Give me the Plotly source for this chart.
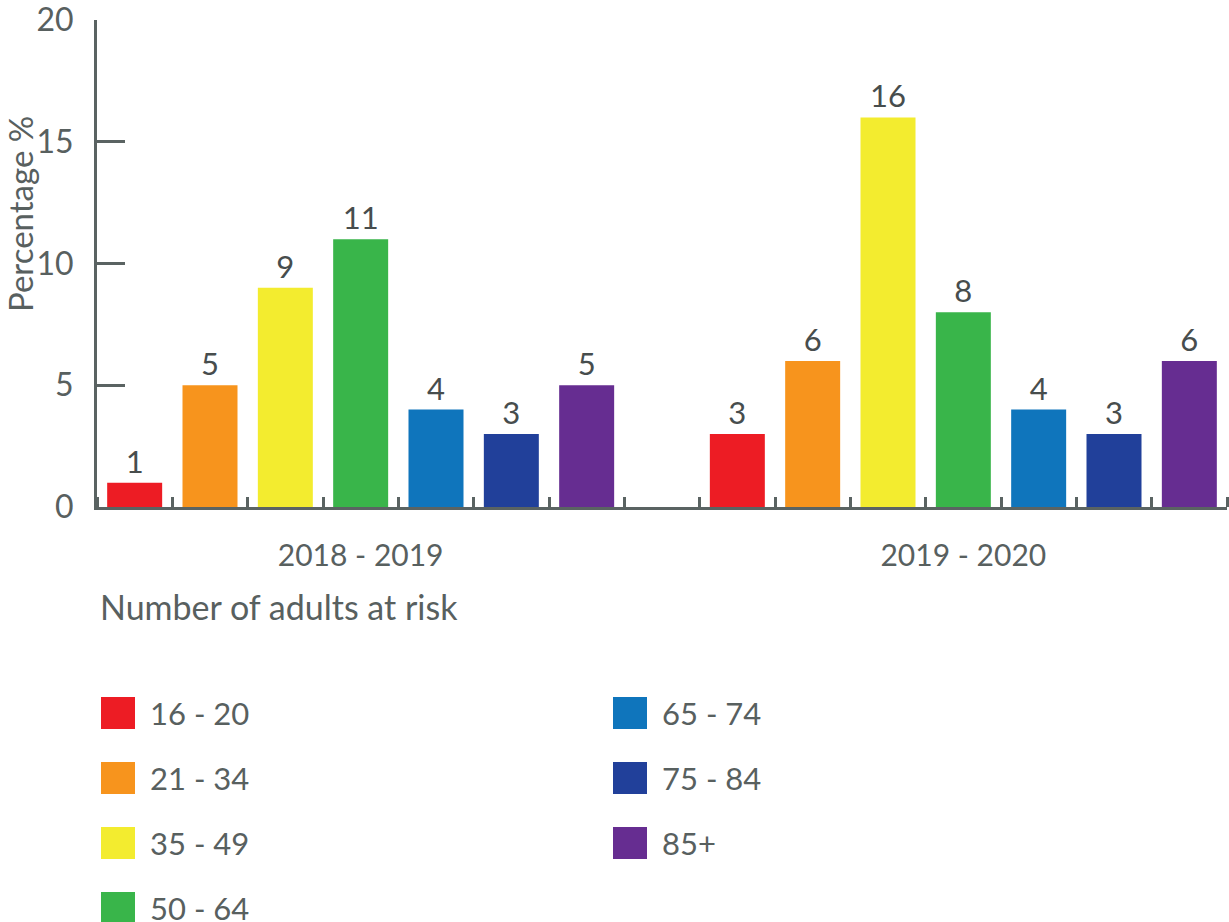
import plotly.graph_objects as go

# ---- data ----
periods = ["2018 - 2019", "2019 - 2020"]
age_groups = ["16 - 20", "21 - 34", "35 - 49", "50 - 64", "65 - 74", "75 - 84", "85+"]
values_2018_2019 = [1, 5, 9, 11, 4, 3, 5]
values_2019_2020 = [3, 6, 16, 8, 4, 3, 6]
colors = ["#ed1c24", "#f7941d", "#f3ec2f", "#39b54a", "#0f75bc", "#21409a", "#662d91"]
y_tick_values = [0, 5, 10, 15, 20]
y_title = "Percentage %"
x_title = "Number of adults at risk"

series = [values_2018_2019, values_2019_2020]

# ---- layout constants ----
W, H = 1229, 922
L, R, T, B = 97, 2, 20, 415
PW, PH = W - L - R, H - T - B
AXIS = "#5a6362"
TXT = "#58605f"
FONT = "Lato"

n = len(age_groups)
gap = 1
group_start = [g * (n + gap) for g in range(len(periods))]
group_centers = [s + (n - 1) / 2 for s in group_start]
n_slots = len(periods) * n + (len(periods) - 1) * gap


def px_x(px):
    return (px - L) / PW


def px_y(py):
    return (H - B - py) / PH


fig = go.Figure()
for i, (age, color) in enumerate(zip(age_groups, colors)):
    xs = [group_start[g] + i for g in range(len(periods))]
    ys = [series[g][i] for g in range(len(periods))]
    fig.add_trace(go.Bar(
        x=xs, y=ys, name=age, marker=dict(color=color, line=dict(width=0)),
        width=0.73, text=[str(v) for v in ys], textposition="outside",
        textfont=dict(family=FONT, size=31, color="#474d4d"),
        cliponaxis=False, showlegend=False, hoverinfo="skip",
    ))

fig.update_layout(
    width=W, height=H,
    margin=dict(l=L, r=R, t=T, b=B, autoexpand=False),
    paper_bgcolor="white", plot_bgcolor="white",
    barmode="overlay",
    font=dict(family=FONT, color=TXT),
    xaxis=dict(
        range=[-0.5, n_slots - 0.5], automargin=False,
        tickvals=group_centers, ticktext=periods, ticks="",
        tickfont=dict(family=FONT, size=30, color=TXT),
        ticklabelstandoff=20,
        showline=True, linecolor=AXIS, linewidth=3,
        showgrid=False, zeroline=False,
        minor=dict(tick0=-0.5, dtick=1, ticks="inside", ticklen=10,
                   tickwidth=2.5, tickcolor=AXIS, showgrid=False),
    ),
    yaxis=dict(
        range=[0, 20.0001], tickvals=y_tick_values, automargin=False,
        ticks="inside", ticklen=28, tickwidth=2.5, tickcolor=AXIS,
        tickfont=dict(family=FONT, size=32, color=TXT),
        ticklabelstandoff=14, ticklabeloverflow="allow",
        showline=True, linecolor=AXIS, linewidth=3,
        showgrid=False, zeroline=False,
    ),
)

annotations = [
    dict(text=y_title, xref="paper", yref="paper", x=px_x(20), y=px_y(214),
         textangle=-90, showarrow=False, xanchor="center", yanchor="middle",
         font=dict(family=FONT, size=33, color=TXT)),
    dict(text=x_title, xref="paper", yref="paper", x=px_x(98), y=px_y(606),
         showarrow=False, xanchor="left", yanchor="middle",
         font=dict(family=FONT, size=34, color=TXT)),
]

shapes = []
for i, (age, color) in enumerate(zip(age_groups, colors)):
    col, row = divmod(i, 4)
    sx = 101 + col * 512
    cy = 713 + row * 65
    shapes.append(dict(type="rect", xref="paper", yref="paper",
                       x0=px_x(sx), x1=px_x(sx + 34), y0=px_y(cy - 16), y1=px_y(cy + 16),
                       fillcolor=color, line=dict(width=0), layer="above"))
    annotations.append(dict(text=age, xref="paper", yref="paper",
                            x=px_x(sx + 47), y=px_y(cy), showarrow=False,
                            xanchor="left", yanchor="middle",
                            font=dict(family=FONT, size=31, color=TXT)))

fig.update_layout(annotations=annotations, shapes=shapes)
fig.write_html("out.html", config={"displayModeBar": False},
               post_script="document.body.style.margin='0';document.body.style.overflow='hidden';")
